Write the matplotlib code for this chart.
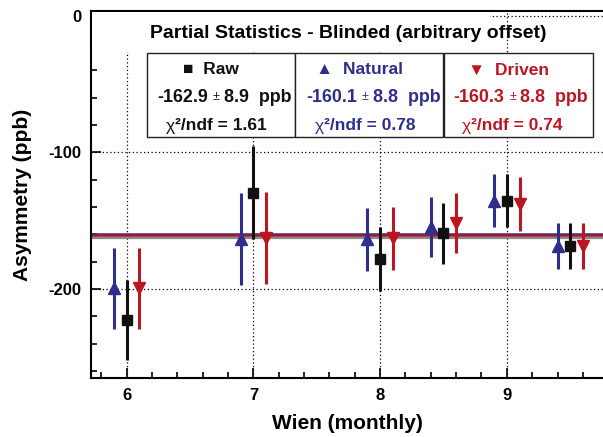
import matplotlib
matplotlib.use("Agg")
import matplotlib.pyplot as plt
from matplotlib.patches import Rectangle

plt.rcParams['font.family'] = ['Liberation Sans', 'DejaVu Sans']
plt.rcParams['font.weight'] = 'bold'
plt.rcParams['axes.unicode_minus'] = False

# ---- data ----
months = [6, 7, 8, 8.5, 9, 9.5]
raw_y = [-222.7, -129.4, -178.2, -159.3, -135.3, -168.4]
raw_err = [29.4, 34.3, 23.3, 22.5, 19.4, 17.0]
nat_y = [-199.5, -163.5, -163.5, -154.6, -135.4, -168.3]
nat_err = [29.5, 33.9, 23.0, 22.2, 19.5, 16.8]
drv_y = [-199.4, -162.8, -163.0, -152.0, -137.8, -168.4]
drv_err = [29.6, 33.5, 23.2, 22.0, 19.5, 17.0]
offset = 0.1

fit_raw, fit_raw_err, chi_raw = -162.9, 8.9, 1.61
fit_nat, fit_nat_err, chi_nat = -160.1, 8.8, 0.78
fit_drv, fit_drv_err, chi_drv = -160.3, 8.8, 0.74

c_raw = '#111111'
c_nat = '#2e2e8c'
c_drv = '#bb1622'
c_line_drv = '#9e1b32'
c_line_raw = '#8a8a8a'

W, H = 603, 437
fig = plt.figure(figsize=(W / 100, H / 100), dpi=100)
L, R, T, B = 91, 603, 11, 378
ax = fig.add_axes([L / W, 1 - B / H, (R - L) / W, (B - T) / H])
ax.set_xlim(5.718, 9.759)
ax.set_ylim(-265.1, 3.4)

# grid
ax.set_xticks([6, 7, 8, 9])
ax.set_yticks([0, -100, -200])
ax.set_xticks([5.8 + 0.2 * i for i in range(20)], minor=True)
ax.set_yticks([0 - 20 * i for i in range(14)], minor=True)
ax.grid(True, which='major', color='black', linestyle=(0, (1, 2)), linewidth=0.9, zorder=0)

# fit lines
ax.axhline(fit_raw, color=c_line_raw, lw=1.6, zorder=2)
ax.axhline(fit_nat, color=c_nat, lw=1.8, zorder=2)
ax.axhline(fit_drv, color=c_line_drv, lw=1.9, zorder=2)

# data points
ax.errorbar([m - offset for m in months], nat_y, yerr=nat_err, fmt='^', color=c_nat,
            ms=8.5, elinewidth=2.2, capsize=0, zorder=4)
ax.errorbar(months, raw_y, yerr=raw_err, fmt='s', color=c_raw,
            ms=7.5, elinewidth=2.2, capsize=0, zorder=4)
ax.errorbar([m + offset for m in months], drv_y, yerr=drv_err, fmt='v', color=c_drv,
            ms=8.5, elinewidth=2.2, capsize=0, zorder=4)

# spines / ticks
for s in ['left', 'bottom', 'top']:
    ax.spines[s].set_linewidth(1.5)
ax.spines['right'].set_visible(False)
ax.tick_params(which='both', direction='in', width=1.2, top=False, right=False)
ax.tick_params(which='major', length=7, labelsize=12, pad=7)
ax.tick_params(which='minor', length=4)
for lab in ax.get_xticklabels() + ax.get_yticklabels():
    lab.set_fontweight('bold')

ax.set_xlabel('Wien (monthly)', fontsize=15, fontweight='bold', labelpad=8)
ax.set_ylabel('Asymmetry (ppb)', fontsize=15, fontweight='bold', labelpad=12)

def fx(px):
    return px / W

def fy(py):
    return 1 - py / H

# title cover and title
fig.patches.append(Rectangle((fx(92), fy(52)), fx(490) - fx(92), fy(12) - fy(52),
                             transform=fig.transFigure, facecolor='white', edgecolor='none', zorder=3))
fig.text(fx(348), fy(33), 'Partial Statistics - Blinded (arbitrary offset)', ha='center', va='center',
         fontsize=14, fontweight='bold', zorder=5)

# stat boxes
boxes = [
    (146.7, '■  Raw', f'{fit_raw:.1f}', f'{fit_raw_err:.1f}  ppb', f'{chi_raw:.2f}', c_raw, 0),
    (295.0, '▲  Natural', f'{fit_nat:.1f}', f'{fit_nat_err:.1f}  ppb', f'{chi_nat:.2f}', c_nat, 1),
    (444.3, '▼  Driven', f'{fit_drv:.1f}', f'{fit_drv_err:.1f}  ppb', f'{chi_drv:.2f}', c_drv, -1),
]
bw = 148.3
fs = 12.5
fsv = 12.9
for x0, head, val, err, chi, col, dx in boxes:
    fig.patches.append(Rectangle((fx(x0), fy(136.7)), fx(bw), fy(53.3) - fy(136.7),
                                 transform=fig.transFigure, facecolor='white', edgecolor='#222222',
                                 lw=1.0, zorder=3))
    cx = x0 + bw / 2
    fig.text(fx(cx - 10), fy(70), head, ha='center', va='center', fontsize=fs,
             fontweight='bold', color=col, zorder=5)
    # value row: value, small ±, error
    fig.text(fx(x0 + 61 + dx), fy(97), val, ha='right', va='center', fontsize=fsv,
             fontweight='bold', color=col, zorder=5)
    fig.text(fx(x0 + 69.5 + dx), fy(97), '±', ha='center', va='center', fontsize=9,
             fontweight='normal', color=col, zorder=5)
    fig.text(fx(x0 + 77 + dx), fy(97), err, ha='left', va='center', fontsize=fsv,
             fontweight='bold', color=col, zorder=5)
    # chi2 row
    fig.text(fx(x0 + 19 + dx), fy(126), 'χ', ha='left', va='center', fontsize=fs,
             fontweight='normal', color=col, zorder=5)
    fig.text(fx(x0 + 28 + dx), fy(125), f'²/ndf = {chi}', ha='left', va='center', fontsize=fs,
             fontweight='bold', color=col, zorder=5)
fig.savefig('out.png', dpi=100)
